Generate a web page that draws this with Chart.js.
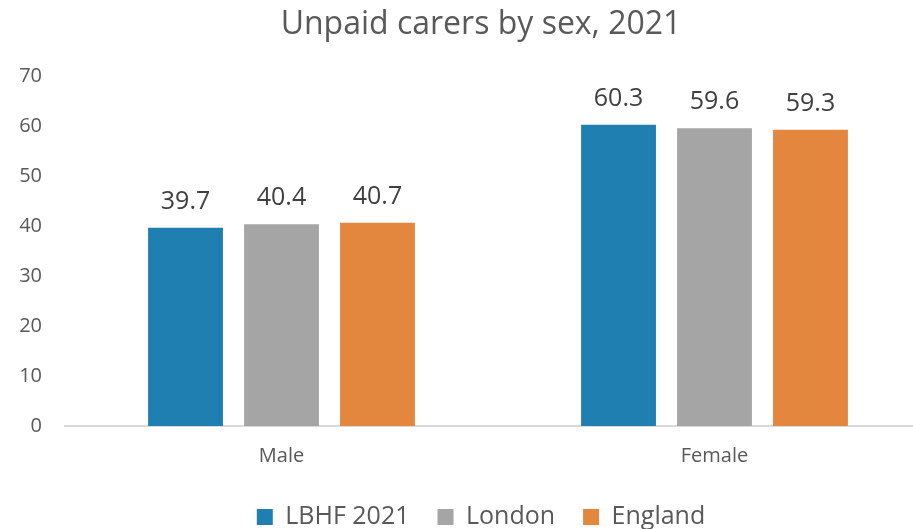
<!DOCTYPE html>
<html>
<head>
<meta charset="utf-8">
<script src="https://cdn.jsdelivr.net/npm/chart.js@4"></script>
<style>
html,body{margin:0;padding:0;background:#fff;overflow:hidden;width:913px;height:529px;}
#wrap{position:absolute;left:0;top:0;width:962px;height:529px;}
</style>
</head>
<body>
<div id="wrap"><canvas id="c" width="962" height="529"></canvas></div>
<script>
const categories = ["Male", "Female"];
const seriesNames = ["LBHF 2021", "London", "England"];
const lbhf = [39.7, 60.3];
const london = [40.4, 59.6];
const england = [40.7, 59.3];
const yTicks = [0, 10, 20, 30, 40, 50, 60, 70];
const colors = ["#1F7FB1", "#A5A5A5", "#E3873F"];

const FONT = "'Open Sans'";

const valueLabels = {
  id: "valueLabels",
  afterDatasetsDraw(chart) {
    const ctx = chart.ctx;
    ctx.save();
    ctx.font = "25px " + FONT;
    ctx.fillStyle = "#404040";
    ctx.textAlign = "center";
    ctx.textBaseline = "alphabetic";
    chart.data.datasets.forEach((ds, i) => {
      const meta = chart.getDatasetMeta(i);
      meta.data.forEach((el, j) => {
        ctx.fillText(ds.data[j].toFixed(1), el.x, el.y - 19);
      });
    });
    ctx.restore();
  }
};

new Chart(document.getElementById("c"), {
  type: "bar",
  data: {
    labels: categories,
    datasets: [
      { label: seriesNames[0], data: lbhf, backgroundColor: colors[0] },
      { label: seriesNames[1], data: london, backgroundColor: colors[1] },
      { label: seriesNames[2], data: england, backgroundColor: colors[2] }
    ]
  },
  options: {
    responsive: false,
    animation: false,
    devicePixelRatio: 1,
    layout: { padding: { left: 0, right: 0, top: 0, bottom: -10.5 } },
    datasets: { bar: { categoryPercentage: 0.665, barPercentage: 0.78 } },
    scales: {
      x: {
        afterFit(scale) { scale.height = 50.5; },
        grid: { display: false, drawTicks: false },
        border: { display: true, color: "#D9D9D9", width: 2 },
        ticks: { color: "#595959", font: { family: FONT, size: 20 }, padding: 18 }
      },
      y: {
        min: 0, max: 70,
        afterBuildTicks(scale) { scale.ticks = yTicks.map(v => ({ value: v })); },
        afterFit(scale) { scale.width = 65; },
        grid: { display: false, drawTicks: false },
        border: { display: false },
        ticks: { color: "#595959", font: { family: FONT, size: 20 }, padding: 23 }
      },
      yRight: {
        position: "right",
        afterFit(scale) { scale.width = 31; },
        grid: { display: false, drawTicks: false },
        border: { display: false },
        ticks: { display: false }
      }
    },
    plugins: {
      title: {
        display: true,
        text: "Unpaid carers by sex, 2021",
        color: "#595959",
        font: { family: FONT, size: 32, weight: "normal" },
        padding: { top: 6, bottom: 32 }
      },
      legend: {
        position: "bottom",
        labels: {
          color: "#595959",
          font: { family: FONT, size: 25 },
          boxWidth: 16, boxHeight: 16,
          padding: 28
        }
      },
      tooltip: { enabled: false }
    }
  },
  plugins: [valueLabels]
});
</script>
</body>
</html>
